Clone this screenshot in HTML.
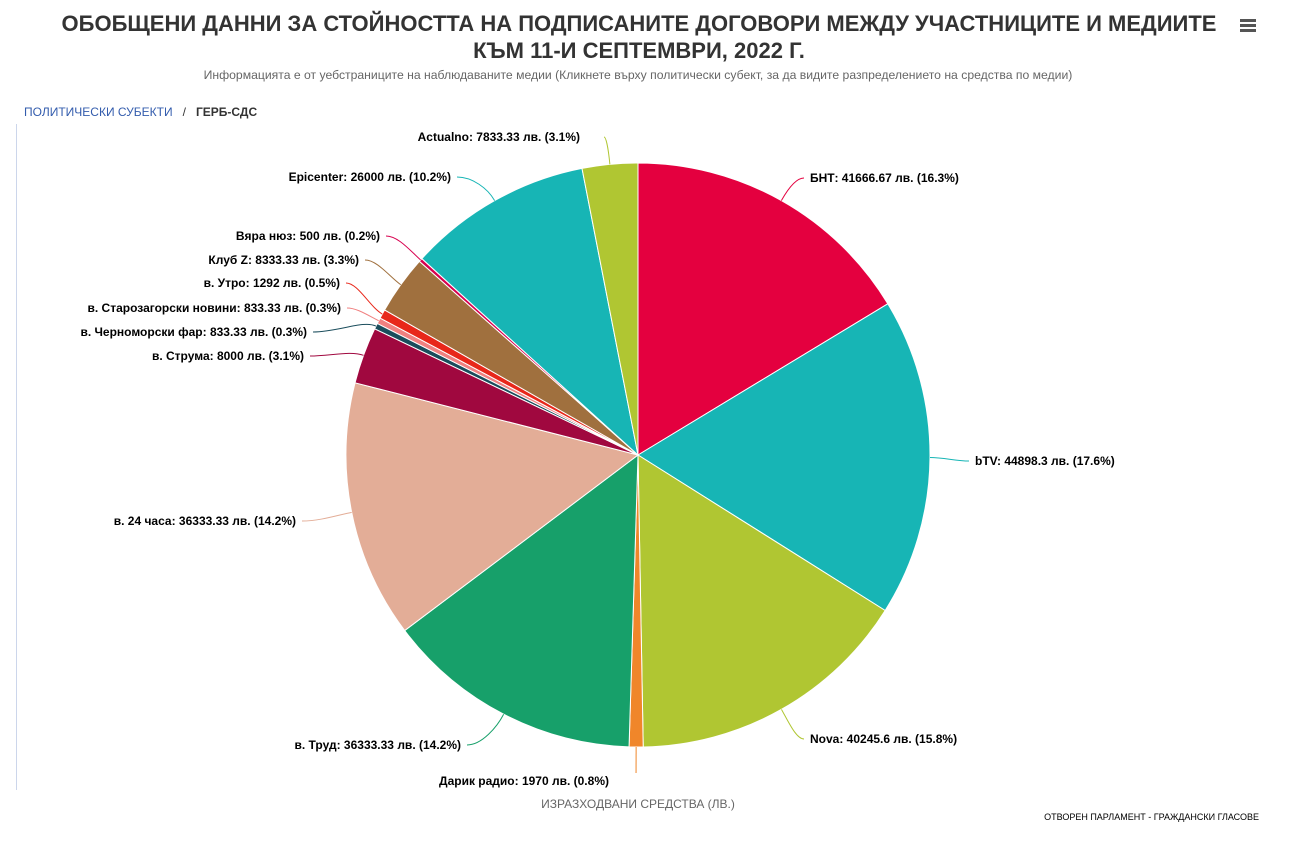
<!DOCTYPE html>
<html><head><meta charset="utf-8"><style>
body{margin:0;background:#fff;font-family:"Liberation Sans",sans-serif;}
#w{position:relative;width:1314px;height:846px;overflow:hidden;}
.t{position:absolute;left:0;width:1278px;text-align:center;font-weight:bold;font-size:22px;color:#333;line-height:27px;top:10px;}
.s{position:absolute;left:0;width:1276px;text-align:center;font-size:12.2px;color:#666;top:68px;}
.bc{position:absolute;left:24px;top:105px;font-size:12px;color:#335cad;}
.bc b{color:#333;}
svg{position:absolute;left:0;top:0;}
svg text{font-family:"Liberation Sans",sans-serif;font-size:12px;font-weight:bold;fill:#000;}
</style></head><body><div id="w">
<div class="t">ОБОБЩЕНИ ДАННИ ЗА СТОЙНОСТТА НА ПОДПИСАНИТЕ ДОГОВОРИ МЕЖДУ УЧАСТНИЦИТЕ И МЕДИИТЕ<br>КЪМ 11-И СЕПТЕМВРИ, 2022 Г.</div>
<div style="position:absolute;left:1240px;top:19px;width:16px;">
<div style="height:3px;background:#555;margin-bottom:2px"></div><div style="height:3px;background:#555;margin-bottom:2px"></div><div style="height:3px;background:#555"></div></div>
<div class="s">Информацията е от уебстраниците на наблюдаваните медии (Кликнете върху политически субект, за да видите разпределението на средства по медии)</div>
<div class="bc">ПОЛИТИЧЕСКИ СУБЕКТИ &nbsp;&nbsp;<span style="color:#333">/</span>&nbsp;&nbsp; <b>ГЕРБ-СДС</b></div>
<div style="position:absolute;left:16px;top:124px;width:1px;height:666px;background:#ccd6eb"></div>
<div style="position:absolute;left:0;width:1276px;text-align:center;top:797px;font-size:12px;color:#666">ИЗРАЗХОДВАНИ СРЕДСТВА (ЛВ.)</div>
<div style="position:absolute;right:55px;top:812px;font-size:9px;color:#000">ОТВОРЕН ПАРЛАМЕНТ - ГРАЖДАНСКИ ГЛАСОВЕ</div>
<svg id="c" width="1314" height="846"></svg>
</div>
<script>
var d=[["БНТ: 41666.67 лв. (16.3%)",41666.67,"#e4003f",810,178,"L"],
["bTV: 44898.3 лв. (17.6%)",44898.3,"#17b5b5",975,461,"L"],
["Nova: 40245.6 лв. (15.8%)",40245.6,"#b0c632",810,739,"L"],
["Дарик радио: 1970 лв. (0.8%)",1970,"#f0862a",608,781,"R"],
["в. Труд: 36333.33 лв. (14.2%)",36333.33,"#17a06a",461,745,"R"],
["в. 24 часа: 36333.33 лв. (14.2%)",36333.33,"#e3ad97",296,521,"R"],
["в. Струма: 8000 лв. (3.1%)",8000,"#a0083f",304,356,"R"],
["в. Черноморски фар: 833.33 лв. (0.3%)",833.33,"#1a4d5c",307,332,"R"],
["в. Старозагорски новини: 833.33 лв. (0.3%)",833.33,"#f08080",341,308,"R"],
["в. Утро: 1292 лв. (0.5%)",1292,"#e8271a",340,283,"R"],
["Клуб Z: 8333.33 лв. (3.3%)",8333.33,"#a0703e",359,260,"R"],
["Вяра нюз: 500 лв. (0.2%)",500,"#d8004f",380,236,"R"],
["Epicenter: 26000 лв. (10.2%)",26000,"#17b5b5",451,177,"R"],
["Actualno: 7833.33 лв. (3.1%)",7833.33,"#b0c632",580,137,"R"]];
var cx=638,cy=455,r=292,tot=0;d.forEach(function(e){tot+=e[1]});
var h="",a=0;
function P(ang,rr){return [cx+rr*Math.sin(ang),cy-rr*Math.cos(ang)];}
d.forEach(function(e){
 var a2=a+e[1]/tot*2*Math.PI,p1=P(a,r),p2=P(a2,r),lg=(a2-a)>Math.PI?1:0;
 h+='<path d="M'+cx+','+cy+'L'+p1[0]+','+p1[1]+'A'+r+','+r+' 0 '+lg+' 1 '+p2[0]+','+p2[1]+'Z" fill="'+e[2]+'" stroke="#fff" stroke-width="1"/>';
 var m=(a+a2)/2,q=P(m,r),q2=P(m,r+14),lx=e[5]=="L"?e[3]-6:e[3]+6,ly=e[4];
 if(e[0].indexOf("Дарик")==0){lx=q2[0];ly=e[4]-8;}
 if(e[0].indexOf("Actualno")==0){lx=e[3]+24;}
 h+='<path d="M'+lx+','+ly+'C'+(lx+q2[0])/2+','+ly+' '+q2[0]+','+q2[1]+' '+q[0]+','+q[1]+'" fill="none" stroke="'+e[2]+'" stroke-width="1"/>';
 if(e[0].indexOf("Дарик")==0) h+='<text x="524" y="'+(e[4]+4)+'" text-anchor="middle">'+e[0]+'</text>';
 else h+='<text x="'+e[3]+'" y="'+(e[4]+4)+'" text-anchor="'+(e[5]=="L"?"start":"end")+'">'+e[0]+'</text>';
 a=a2;});
document.getElementById("c").innerHTML=h;
</script></body></html>
